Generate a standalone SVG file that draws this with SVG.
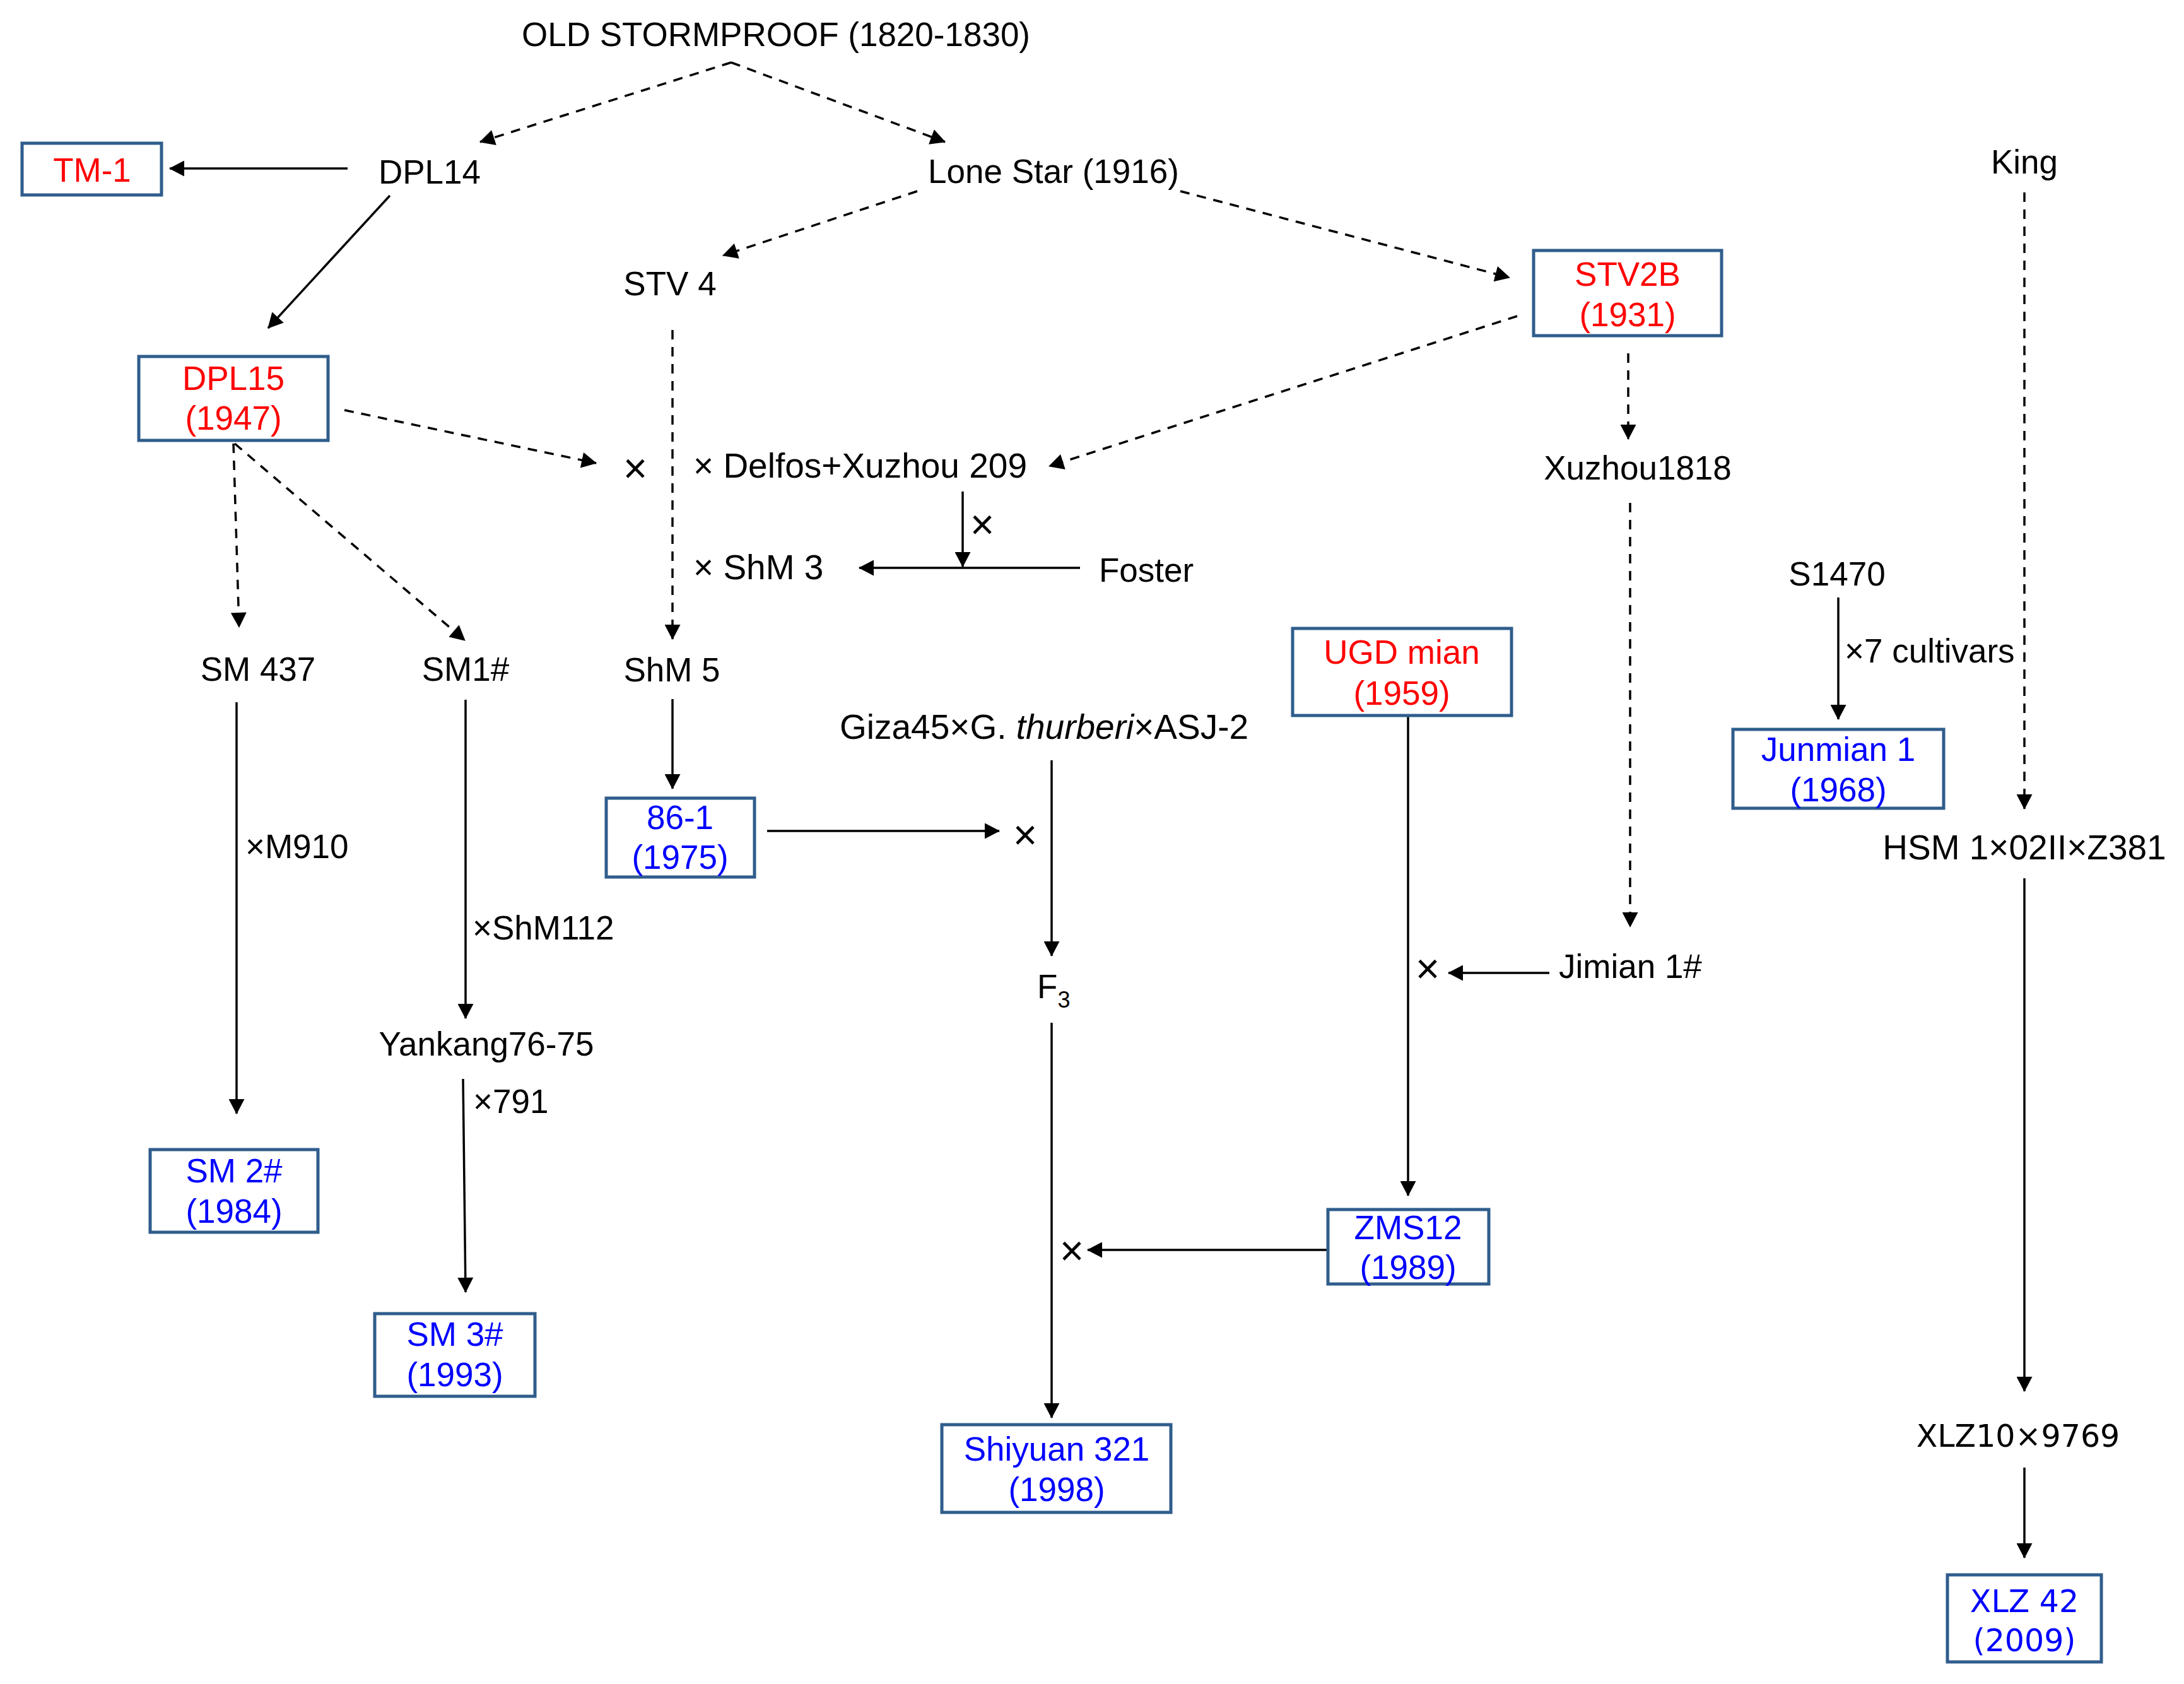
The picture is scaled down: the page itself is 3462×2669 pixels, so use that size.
<svg xmlns="http://www.w3.org/2000/svg" width="3462" height="2669" viewBox="0 0 3462 2669">
<style>
text{font-family:"Liberation Sans",Arial,sans-serif;font-size:53px;fill:#000}
.c{text-anchor:middle}
.red{fill:#FF0000}
.blue{fill:#0000FF}
.dv{font-family:"DejaVu Sans",Verdana,sans-serif;font-size:49px}
.big{font-size:55px}
.box{fill:#fff;stroke:#2F5D8C;stroke-width:5}
.s{stroke:#000;stroke-width:3.5;fill:none;marker-end:url(#ah)}
.d{stroke:#000;stroke-width:3.5;fill:none;stroke-dasharray:15 12;marker-end:url(#ah)}
.x{font-size:66px}
</style>
<defs>
<marker id="ah" markerUnits="userSpaceOnUse" markerWidth="25" markerHeight="25" viewBox="0 0 24 25" refX="23" refY="12.5" orient="auto">
<path d="M0,0 L24,12.5 L0,25 z" fill="#000"/>
</marker>
</defs>
<rect width="3462" height="2669" fill="#fff"/>

<g id="connectors">
<line class="d" x1="1159" y1="99" x2="761" y2="225"/>
<line class="d" x1="1159" y1="99" x2="1498" y2="225"/>
<line class="d" x1="1454" y1="303" x2="1146" y2="405"/>
<line class="d" x1="1871" y1="303" x2="2393" y2="440"/>
<line class="d" x1="2405" y1="501" x2="1663" y2="739"/>
<line class="d" x1="2581" y1="560" x2="2581" y2="696"/>
<line class="d" x1="2584" y1="797" x2="2584" y2="1469"/>
<line class="d" x1="3209" y1="305" x2="3209" y2="1282"/>
<line class="d" x1="546" y1="650" x2="945" y2="734"/>
<line class="d" x1="1066" y1="523" x2="1066" y2="1013"/>
<line class="d" x1="370" y1="703" x2="379" y2="994"/>
<line class="d" x1="372" y1="703" x2="737" y2="1015"/>
<line class="s" x1="551" y1="267" x2="269" y2="267"/>
<line class="s" x1="618" y1="310" x2="425" y2="520"/>
<line class="s" x1="1526" y1="779" x2="1526" y2="898"/>
<line class="s" x1="1712" y1="900" x2="1362" y2="900"/>
<line class="s" x1="1066" y1="1108" x2="1066" y2="1250"/>
<line class="s" x1="1216" y1="1317" x2="1584" y2="1317"/>
<line class="s" x1="1667" y1="1205" x2="1667" y2="1515"/>
<line class="s" x1="1667" y1="1621" x2="1667" y2="2247"/>
<line class="s" x1="2103" y1="1981" x2="1724" y2="1981"/>
<line class="s" x1="2232" y1="1136" x2="2232" y2="1895"/>
<line class="s" x1="2456" y1="1542" x2="2296" y2="1542"/>
<line class="s" x1="375" y1="1113" x2="375" y2="1765"/>
<line class="s" x1="738" y1="1109" x2="738" y2="1614"/>
<line class="s" x1="734" y1="1710" x2="738" y2="2048"/>
<line class="s" x1="2914" y1="947" x2="2914" y2="1140"/>
<line class="s" x1="3209" y1="1392" x2="3209" y2="2205"/>
<line class="s" x1="3209" y1="2326" x2="3209" y2="2469"/>
</g>

<g id="n-oldstormproof"><text class="c" x="1230" y="73" font-size="53.5">OLD STORMPROOF (1820-1830)</text></g>
<g id="n-dpl14"><text class="c" x="681" y="291">DPL14</text></g>
<g id="n-tm1"><rect class="box" x="35" y="227" width="221" height="82"/><text class="c red" x="146" y="288">TM-1</text></g>
<g id="n-lonestar"><text class="c" x="1670" y="290">Lone Star (1916)</text></g>
<g id="n-stv4"><text class="c" x="1062" y="468">STV 4</text></g>
<g id="n-stv2b"><rect class="box" x="2431" y="397" width="298" height="135"/><text class="c red" x="2580" y="453">STV2B</text><text class="c red" x="2580" y="517">(1931)</text></g>
<g id="n-dpl15"><rect class="box" x="220" y="565" width="300" height="133"/><text class="c red" x="370" y="618">DPL15</text><text class="c red" x="370" y="681">(1947)</text></g>
<g id="n-king"><text class="c" x="3209" y="275">King</text></g>
<g id="n-xuzhou1818"><text class="c" x="2596" y="760">Xuzhou1818</text></g>
<g id="n-cross1"><text class="c x" x="1007" y="765">×</text></g>
<g id="n-delfos"><text class="big" x="1099" y="757">× Delfos+Xuzhou 209</text></g>
<g id="n-cross2"><text class="c x" x="1557" y="854">×</text></g>
<g id="n-shm3"><text class="big" x="1099" y="918">× ShM 3</text></g>
<g id="n-foster"><text x="1742" y="922">Foster</text></g>
<g id="n-s1470"><text class="c" x="2912" y="928">S1470</text></g>
<g id="n-cultivars"><text x="2924" y="1050">×7 cultivars</text></g>
<g id="n-sm437"><text class="c" x="409" y="1079">SM 437</text></g>
<g id="n-sm1"><text class="c" x="738" y="1079">SM1#</text></g>
<g id="n-shm5"><text class="c" x="1065" y="1080">ShM 5</text></g>
<g id="n-ugd"><rect class="box" x="2049" y="996" width="347" height="138"/><text class="c red" x="2222" y="1052">UGD mian</text><text class="c red" x="2222" y="1117">(1959)</text></g>
<g id="n-giza"><text class="big" x="1331" y="1171">Giza45×G. <tspan font-style="italic">thurberi</tspan>×ASJ-2</text></g>
<g id="n-junmian"><rect class="box" x="2747" y="1156" width="334" height="125"/><text class="c blue" x="2914" y="1206">Junmian 1</text><text class="c blue" x="2914" y="1270">(1968)</text></g>
<g id="n-861"><rect class="box" x="961" y="1265" width="235" height="125"/><text class="c blue" x="1078" y="1314">86-1</text><text class="c blue" x="1078" y="1377">(1975)</text></g>
<g id="n-cross3"><text class="c x" x="1625" y="1346">×</text></g>
<g id="n-hsm"><text class="c big" x="3209" y="1362">HSM 1×02II×Z381</text></g>
<g id="n-m910"><text x="389" y="1360">×M910</text></g>
<g id="n-shm112"><text x="749" y="1489">×ShM112</text></g>
<g id="n-jimian"><text x="2471" y="1550">Jimian 1#</text></g>
<g id="n-cross4"><text class="c x" x="2263" y="1558">×</text></g>
<g id="n-f3"><text x="1644" y="1582">F<tspan font-size="36px" dy="15">3</tspan></text></g>
<g id="n-yankang"><text class="c" x="771" y="1673">Yankang76-75</text></g>
<g id="n-791"><text x="750" y="1764">×791</text></g>
<g id="n-sm2"><rect class="box" x="238" y="1822" width="266" height="131"/><text class="c blue" x="371" y="1874">SM 2#</text><text class="c blue" x="371" y="1938">(1984)</text></g>
<g id="n-zms12"><rect class="box" x="2105" y="1917" width="255" height="118"/><text class="c blue" x="2232" y="1964">ZMS12</text><text class="c blue" x="2232" y="2027">(1989)</text></g>
<g id="n-cross5"><text class="c x" x="1699" y="2005">×</text></g>
<g id="n-sm3"><rect class="box" x="594" y="2082" width="254" height="131"/><text class="c blue" x="721" y="2133">SM 3#</text><text class="c blue" x="721" y="2197">(1993)</text></g>
<g id="n-xlz10"><text class="c dv" x="3199" y="2293">XLZ10×9769</text></g>
<g id="n-shiyuan"><rect class="box" x="1493" y="2258" width="363" height="139"/><text class="c blue" x="1675" y="2315">Shiyuan 321</text><text class="c blue" x="1675" y="2379">(1998)</text></g>
<g id="n-xlz42"><rect class="box" x="3087" y="2496" width="244" height="138"/><text class="c blue dv" x="3209" y="2555">XLZ 42</text><text class="c blue dv" x="3209" y="2617">(2009)</text></g>
</svg>
